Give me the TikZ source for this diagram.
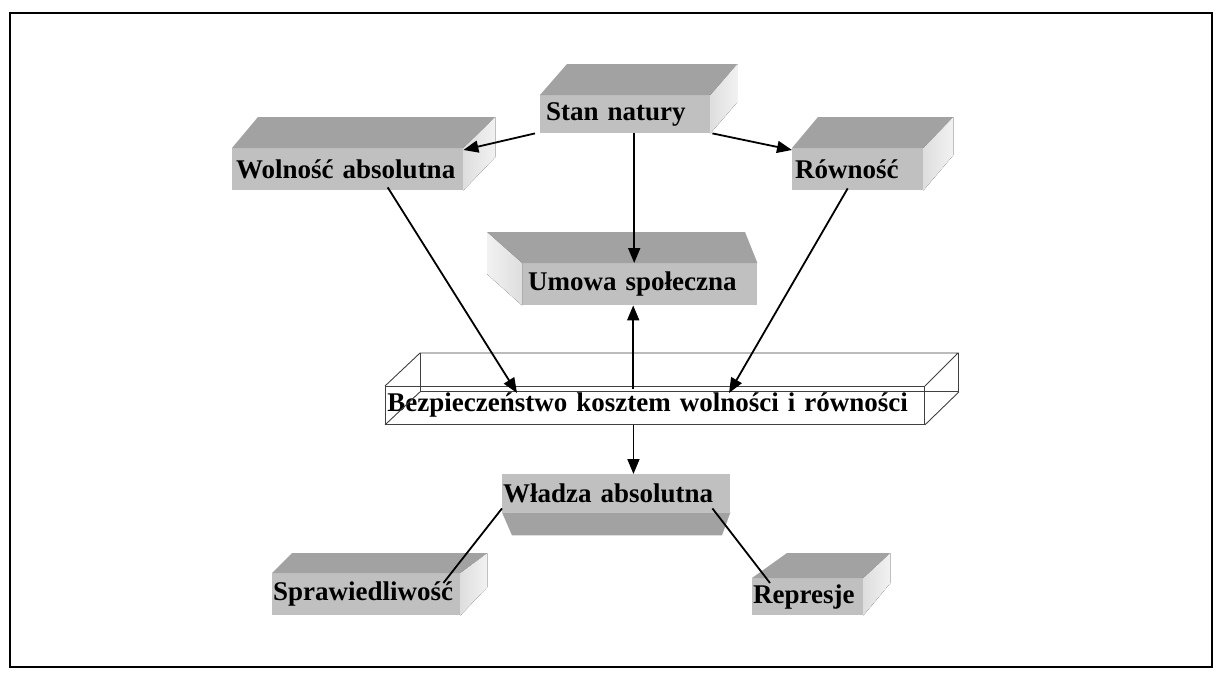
\documentclass[tikz,border=0pt]{standalone}
\usepackage{fontspec}
\setmainfont{Liberation Serif}
\usetikzlibrary{arrows.meta}

\definecolor{facegray}{RGB}{192,192,192}
\definecolor{topgray}{RGB}{162,162,162}
\definecolor{sidegray}{RGB}{222,222,222}
\newcommand\boxfont{\bfseries\fontsize{27}{29}\selectfont}

\tikzset{
  front/.style={fill=facegray, anchor=north west, inner ysep=0pt, inner xsep=3pt,
    align=left, font=\boxfont},
  topface/.style={fill=topgray},
  sideface/.style={left color=sidegray, right color=sidegray!40},
  wire/.style={draw=black!75, line width=0.9pt},
  arr/.style={-{Triangle[length=15pt,width=12pt]}, line width=1.8pt},
  link/.style={line width=1.8pt}
}

\begin{document}
\begin{tikzpicture}[x=1pt, y=-1pt]
    \useasboundingbox (0,0) rectangle (1223,680);
    % ---------------------------------------------
    % frame
    \draw[line width=2pt] (10,13) rectangle (1212,667);

    % ---------------------------------------------
    % upper boxes
    \node[front, inner xsep=6pt, text width=158pt, minimum height=38pt] (stan) at (540,95) {Stan natury};
    \fill[topface] (stan.north west) -- ++(27,-31) -- ++(170,0) -- (stan.north east) -- cycle;
    \fill[sideface] (stan.north east) -- ++(27,-31) -- ++(0,38) -- (stan.south east) -- cycle;

    \node[front, inner xsep=4pt, text width=223pt, minimum height=42pt] (wolnosc) at (232,148) {Wolność absolutna};
    \fill[topface] (wolnosc.north west) -- ++(26,-31) -- ++(237,0) -- (wolnosc.north east) -- cycle;
    \fill[sideface] (wolnosc.north east) -- ++(32,-31) -- ++(0,40) -- (wolnosc.south east) -- cycle;

    \node[front, inner xsep=3pt, text width=125pt, minimum height=42pt] (rownosc) at (792,148) {Równość};
    \fill[topface] (rownosc.north west) -- ++(26,-31) -- ++(135,0) -- (rownosc.north east) -- cycle;
    \fill[sideface] (rownosc.north east) -- ++(30,-31) -- ++(0,38) -- (rownosc.south east) -- cycle;

    % ---------------------------------------------
    % social contract
    \node[front, inner xsep=6pt, text width=223pt, minimum height=42pt] (umowa) at (522,263) {Umowa społeczna};
    \fill[topface] (umowa.north west) -- ++(-35,-31) -- ++(258,0) -- (umowa.north east) -- cycle;
    \fill[left color=sidegray!40, right color=sidegray] (umowa.north west) -- ++(-35,-31) -- ++(0,42) -- (umowa.south west) -- cycle;

    % ---------------------------------------------
    % wire box
    \node[wire, anchor=north west, inner sep=1pt, minimum width=539pt, minimum height=38pt,
      font=\boxfont, text width=535pt, align=left] (bezp) at (385,386) {Bezpieczeństwo kosztem wolności i równości};
    \draw[wire] (bezp.north west) -- ++(35,-33) -- ++(538,0) -- (bezp.north east);
    \draw[wire] ([shift={(35,-33)}]bezp.north west) -- ++(0,38) -- ++(538,0) -- ++(0,-38);
    \draw[wire] (bezp.south west) -- ++(35,-33);
    \draw[wire] (bezp.south east) -- ++(34,-33);

    % ---------------------------------------------
    % absolute power
    \node[front, inner xsep=1pt, text width=226pt, minimum height=38pt] (wladza) at (502,474) {Władza absolutna};
    \fill[topface] (wladza.south west) -- ++(10,23) -- ++(210,0) -- (wladza.south east) -- cycle;

    % lower boxes
    \node[front, inner xsep=1pt, text width=186pt, minimum height=42pt] (spraw) at (272,573) {Sprawiedliwość};
    \fill[topface] (spraw.north west) -- ++(20,-20) -- ++(195,0) -- (spraw.north east) -- cycle;
    \fill[sideface] (spraw.north east) -- ++(27,-20) -- ++(0,34) -- (spraw.south east) -- cycle;

    \node[front, inner xsep=1pt, text width=109pt, minimum height=37pt] (represje) at (752,578) {Represje};
    \fill[topface] (represje.north west) -- ++(35,-25) -- ++(103,0) -- (represje.north east) -- cycle;
    \fill[sideface] (represje.north east) -- ++(27,-25) -- ++(0,30) -- (represje.south east) -- cycle;

    % ---------------------------------------------
    % connectors
    \draw[arr] ([xshift=-5pt]stan.south west) -- ([yshift=-2pt]wolnosc.north east);
    \draw[arr] ([xshift=2pt]stan.south east) -- ([yshift=-2pt]rownosc.north west);
    \draw[arr] ([xshift=9pt]stan.south) -- ([xshift=9pt]stan.south |- umowa.north);
    \draw[arr, {Triangle[length=15pt,width=12pt]}-] ([xshift=-6.5pt]umowa.south) -- ([xshift=-6.5pt, yshift=-3pt]umowa.south |- bezp.north);
    \draw[arr] ([xshift=40pt, yshift=3pt]wolnosc.south) -- ([xshift=132pt, yshift=-7pt]bezp.north west);
    \draw[arr] ([xshift=-10pt, yshift=2pt]rownosc.south) -- ([xshift=344pt, yshift=-7pt]bezp.north west);
    \draw[arr] ([xshift=-21.5pt]bezp.south) -- ([xshift=-21.5pt]bezp.south |- wladza.north);
    \draw[link] ([yshift=4pt]wladza.south west) -- ([xshift=-17pt, yshift=-10pt]spraw.north east);
    \draw[link] ([xshift=-18pt, yshift=4pt]wladza.south east) -- ([xshift=18pt, yshift=-5pt]represje.north west);

  \end{tikzpicture}
\end{document}
